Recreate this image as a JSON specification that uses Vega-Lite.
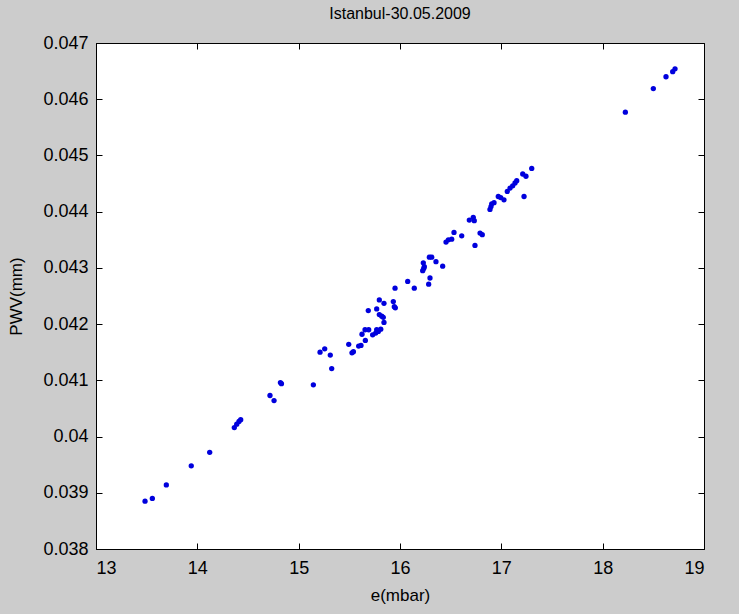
{
  "$schema": "https://vega.github.io/schema/vega-lite/v6.json",
  "autosize": {"type": "none"},
  "padding": {"left": 96, "top": 43, "right": 35, "bottom": 65},
  "width": 608,
  "height": 506,
  "background": "#cccccc",
  "title": {"text": "Istanbul-30.05.2009", "font": "Liberation Sans", "fontSize": 16, "fontWeight": "normal", "color": "#000000", "offset": 12, "anchor": "middle"},
  "config": {
    "view": {"fill": "#ffffff", "stroke": "#000000", "strokeWidth": 1},
    "axis": {"labelFont": "Liberation Sans", "labelFontSize": 18, "labelColor": "#000000", "titleFont": "Liberation Sans", "titleFontSize": 17, "titleFontWeight": "normal", "titleColor": "#000000", "grid": false, "domainColor": "#000000", "tickColor": "#000000", "tickSize": -6, "labelPadding": 16}
  },
  "data": {"values": [
    {"e": 13.484, "pwv": 0.03885}, {"e": 13.556, "pwv": 0.03890}, {"e": 13.694, "pwv": 0.03914}, {"e": 13.940, "pwv": 0.03948},
    {"e": 14.122, "pwv": 0.03972}, {"e": 14.365, "pwv": 0.04016}, {"e": 14.389, "pwv": 0.04022}, {"e": 14.411, "pwv": 0.04027},
    {"e": 14.428, "pwv": 0.04030}, {"e": 14.717, "pwv": 0.04073}, {"e": 14.757, "pwv": 0.04064}, {"e": 14.82, "pwv": 0.04096},
    {"e": 14.83, "pwv": 0.04094}, {"e": 15.145, "pwv": 0.04092}, {"e": 15.326, "pwv": 0.04121}, {"e": 15.312, "pwv": 0.04145},
    {"e": 15.211, "pwv": 0.04150}, {"e": 15.257, "pwv": 0.04156}, {"e": 15.494, "pwv": 0.04164}, {"e": 15.526, "pwv": 0.04149},
    {"e": 15.54, "pwv": 0.04151}, {"e": 15.592, "pwv": 0.04161}, {"e": 15.615, "pwv": 0.04162}, {"e": 15.658, "pwv": 0.04171},
    {"e": 15.625, "pwv": 0.04182}, {"e": 15.655, "pwv": 0.04190}, {"e": 15.691, "pwv": 0.04190}, {"e": 15.73, "pwv": 0.04181},
    {"e": 15.76, "pwv": 0.04184}, {"e": 15.786, "pwv": 0.04187}, {"e": 15.81, "pwv": 0.04191}, {"e": 15.77, "pwv": 0.04190},
    {"e": 15.842, "pwv": 0.04203}, {"e": 15.82, "pwv": 0.04214}, {"e": 15.835, "pwv": 0.04212}, {"e": 15.796, "pwv": 0.04217},
    {"e": 15.687, "pwv": 0.04224}, {"e": 15.77, "pwv": 0.04227}, {"e": 15.796, "pwv": 0.04243}, {"e": 15.842, "pwv": 0.04237},
    {"e": 15.934, "pwv": 0.04240}, {"e": 15.944, "pwv": 0.04231}, {"e": 15.954, "pwv": 0.04229}, {"e": 15.951, "pwv": 0.04264},
    {"e": 16.076, "pwv": 0.04276}, {"e": 16.141, "pwv": 0.04264}, {"e": 16.224, "pwv": 0.04295}, {"e": 16.234, "pwv": 0.04299},
    {"e": 16.24, "pwv": 0.04302}, {"e": 16.23, "pwv": 0.04309}, {"e": 16.29, "pwv": 0.04319}, {"e": 16.313, "pwv": 0.04319},
    {"e": 16.355, "pwv": 0.04311}, {"e": 16.421, "pwv": 0.04303}, {"e": 16.296, "pwv": 0.04282}, {"e": 16.283, "pwv": 0.04271},
    {"e": 16.454, "pwv": 0.04346}, {"e": 16.477, "pwv": 0.04350}, {"e": 16.51, "pwv": 0.04351}, {"e": 16.533, "pwv": 0.04363},
    {"e": 16.609, "pwv": 0.04357}, {"e": 16.74, "pwv": 0.04340}, {"e": 16.79, "pwv": 0.04362}, {"e": 16.812, "pwv": 0.04359},
    {"e": 16.684, "pwv": 0.04385}, {"e": 16.723, "pwv": 0.04390}, {"e": 16.733, "pwv": 0.04384}, {"e": 16.888, "pwv": 0.04404},
    {"e": 16.898, "pwv": 0.04409}, {"e": 16.905, "pwv": 0.04414}, {"e": 16.928, "pwv": 0.04416}, {"e": 16.97, "pwv": 0.04427},
    {"e": 16.994, "pwv": 0.04425}, {"e": 17.026, "pwv": 0.04421}, {"e": 17.224, "pwv": 0.04427}, {"e": 17.059, "pwv": 0.04436},
    {"e": 17.086, "pwv": 0.04442}, {"e": 17.112, "pwv": 0.04446}, {"e": 17.135, "pwv": 0.04451}, {"e": 17.152, "pwv": 0.04455},
    {"e": 17.211, "pwv": 0.04467}, {"e": 17.243, "pwv": 0.04463}, {"e": 17.3, "pwv": 0.04477}, {"e": 18.224, "pwv": 0.04577},
    {"e": 18.5, "pwv": 0.04619}, {"e": 18.625, "pwv": 0.04640}, {"e": 18.691, "pwv": 0.04649}, {"e": 18.714, "pwv": 0.04654}
  ]},
  "layer": [
    {
      "mark": {"type": "point", "filled": true, "shape": "circle", "size": 28, "color": "#0000dd", "opacity": 1},
      "encoding": {
        "x": {"field": "e", "type": "quantitative", "scale": {"domain": [13, 19], "nice": false, "zero": false},
              "axis": {"title": "e(mbar)", "values": [13, 14, 15, 16, 17, 18, 19], "titlePadding": 10}},
        "y": {"field": "pwv", "type": "quantitative", "scale": {"domain": [0.038, 0.047], "nice": false, "zero": false},
              "axis": {"title": "PWV(mm)", "values": [0.038, 0.039, 0.04, 0.041, 0.042, 0.043, 0.044, 0.045, 0.046, 0.047], "labelExpr": "format(datum.value, '~g')", "labelPadding": 14, "titlePadding": 17}}
      }
    },
    {
      "mark": {"type": "point", "opacity": 0},
      "encoding": {
        "x": {"field": "e", "type": "quantitative", "axis": {"orient": "top", "title": null, "labels": false, "domain": false, "values": [13, 14, 15, 16, 17, 18, 19]}},
        "y": {"field": "pwv", "type": "quantitative", "axis": {"orient": "right", "title": null, "labels": false, "domain": false, "values": [0.038, 0.039, 0.04, 0.041, 0.042, 0.043, 0.044, 0.045, 0.046, 0.047]}}
      }
    }
  ],
  "resolve": {"scale": {"x": "shared", "y": "shared"}, "axis": {"x": "independent", "y": "independent"}}
}
